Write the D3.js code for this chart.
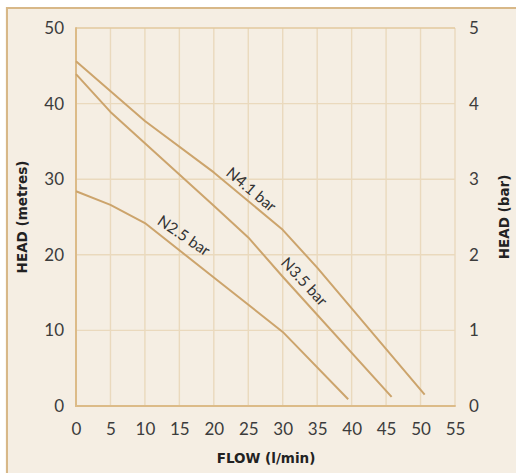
<!DOCTYPE html>
<html>
<head>
<meta charset="utf-8">
<script src="https://cdn.jsdelivr.net/npm/d3@7"></script>
<style>
  html, body { margin: 0; padding: 0; background: #ffffff; }
  #wrap { position: relative; width: 516px; height: 473px; }
  #panel { position: absolute; left: 6px; top: 7px; right: 0; bottom: 0;
           background: #f5eee3; border-left: 2px solid #d8b888; border-top: 2px solid #d8b888; }
  svg { display: block; position: absolute; left: 0; top: 0; }
</style>
</head>
<body>
<div id="wrap"><div id="panel"></div></div>
<script>
// ---- data ----
const xTicks = [0, 5, 10, 15, 20, 25, 30, 35, 40, 45, 50, 55];
const yTicksMetres = [0, 10, 20, 30, 40, 50];
const yTicksBar = [0, 1, 2, 3, 4, 5];

const flowN41 = [0, 10, 20, 30, 35, 50.6];
const headN41 = [45.6, 37.7, 30.9, 23.3, 18.3, 1.5];

const flowN35 = [0, 5, 20, 25, 30, 45.8];
const headN35 = [43.9, 38.9, 26.5, 22.3, 17.1, 1.2];

const flowN25 = [0, 5, 10, 20, 30, 39.5];
const headN25 = [28.4, 26.6, 24.2, 17.0, 9.8, 0.9];

const seriesNames = ["N4.1 bar", "N3.5 bar", "N2.5 bar"];
// label anchor in data units and rotation (deg)
const labelFlow = [25.5, 33.2, 15.7];
const labelHead = [28.7, 16.5, 22.6];
const labelAngle = [40, 47, 34];

// ---- layout ----
const W = 516, H = 473;
const m = { left: 76, right: 455, top: 28, bottom: 406 };

const svg = d3.select("#wrap").append("svg").attr("width", W).attr("height", H);

// panel drawn as a path as well
svg.append("path")
  .attr("d", `M8,9H${W}V${H}H8Z`)
  .attr("fill", "#f5eee3");
svg.append("path")
  .attr("d", `M6.8,${H}V7.8H${W}`)
  .attr("fill", "none").attr("stroke", "#d8b888").attr("stroke-width", 1.8);

const x = d3.scaleLinear().domain([0, 55]).range([m.left, m.right]);
const y = d3.scaleLinear().domain([0, 50]).range([m.bottom, m.top]);
const y2 = d3.scaleLinear().domain([0, 5]).range([m.bottom, m.top]);

const gridColor = "#ead9bd";
const g = svg.append("g");

// vertical grid
g.selectAll(".vg").data(xTicks.slice(1)).enter().append("line")
  .attr("x1", d => x(d)).attr("x2", d => x(d))
  .attr("y1", m.top).attr("y2", m.bottom)
  .attr("stroke", gridColor).attr("stroke-width", 1.4);
// horizontal grid
g.selectAll(".hg").data(yTicksMetres.slice(1)).enter().append("line")
  .attr("x1", m.left).attr("x2", m.right)
  .attr("y1", d => y(d)).attr("y2", d => y(d))
  .attr("stroke", d => d === 50 ? "#e2c89e" : gridColor).attr("stroke-width", 1.4);

// axis lines
g.append("line").attr("x1", m.left).attr("x2", m.left).attr("y1", m.top - 0.7).attr("y2", m.bottom + 1)
  .attr("stroke", "#dcbb88").attr("stroke-width", 2);
g.append("line").attr("x1", m.left - 1).attr("x2", m.right + 0.7).attr("y1", m.bottom).attr("y2", m.bottom)
  .attr("stroke", "#dcbb88").attr("stroke-width", 2);

// axes via d3
const tickFont = "Lato, 'Open Sans', sans-serif";
const xAxis = d3.axisBottom(x).tickValues(xTicks).tickSize(0).tickPadding(17).tickFormat(d3.format("d"));
const yAxis = d3.axisLeft(y).tickValues(yTicksMetres).tickSize(0).tickPadding(12).tickFormat(d3.format("d"));
const y2Axis = d3.axisRight(y2).tickValues(yTicksBar).tickSize(0).tickPadding(14).tickFormat(d3.format("d"));

function styleAxis(sel) {
  sel.select(".domain").remove();
  sel.selectAll("text").attr("font-family", tickFont).attr("font-size", 17)
    .attr("fill", "#3c3c3c");
}
svg.append("g").attr("transform", `translate(0,${m.bottom})`).call(xAxis).call(styleAxis);
svg.append("g").attr("transform", `translate(${m.left},0)`).call(yAxis).call(styleAxis);
svg.append("g").attr("transform", `translate(${m.right},0)`).call(y2Axis).call(styleAxis);

// curves
const line = d3.line().x(d => x(d[0])).y(d => y(d[1]));
const curves = [
  d3.zip(flowN41, headN41),
  d3.zip(flowN35, headN35),
  d3.zip(flowN25, headN25)
];
svg.selectAll(".curve").data(curves).enter().append("path")
  .attr("d", line).attr("fill", "none")
  .attr("stroke", "#cca46c").attr("stroke-width", 2).attr("stroke-linejoin", "round");

// curve labels
seriesNames.forEach((name, i) => {
  svg.append("text")
    .attr("transform", `translate(${x(labelFlow[i])},${y(labelHead[i])}) rotate(${labelAngle[i]})`)
    .attr("text-anchor", "middle").attr("dominant-baseline", "central")
    .attr("font-family", tickFont).attr("font-size", 15.5).attr("fill", "#333")
    .text(name);
});

// axis titles
const titleFont = "'DejaVu Sans', sans-serif";
svg.append("text").attr("x", 266).attr("y", 463)
  .attr("text-anchor", "middle").attr("font-family", titleFont).attr("font-weight", "bold")
  .attr("font-size", 13.5).attr("fill", "#222").text("FLOW (l/min)");
svg.append("text").attr("transform", `translate(27,${(m.top + m.bottom) / 2}) rotate(-90)`)
  .attr("text-anchor", "middle").attr("font-family", titleFont).attr("font-weight", "bold")
  .attr("font-size", 13.5).attr("fill", "#222").text("HEAD (metres)");
svg.append("text").attr("transform", `translate(509,${(m.top + m.bottom) / 2}) rotate(-90)`)
  .attr("text-anchor", "middle").attr("font-family", titleFont).attr("font-weight", "bold")
  .attr("font-size", 13.5).attr("fill", "#222").text("HEAD (bar)");
</script>
</body>
</html>
